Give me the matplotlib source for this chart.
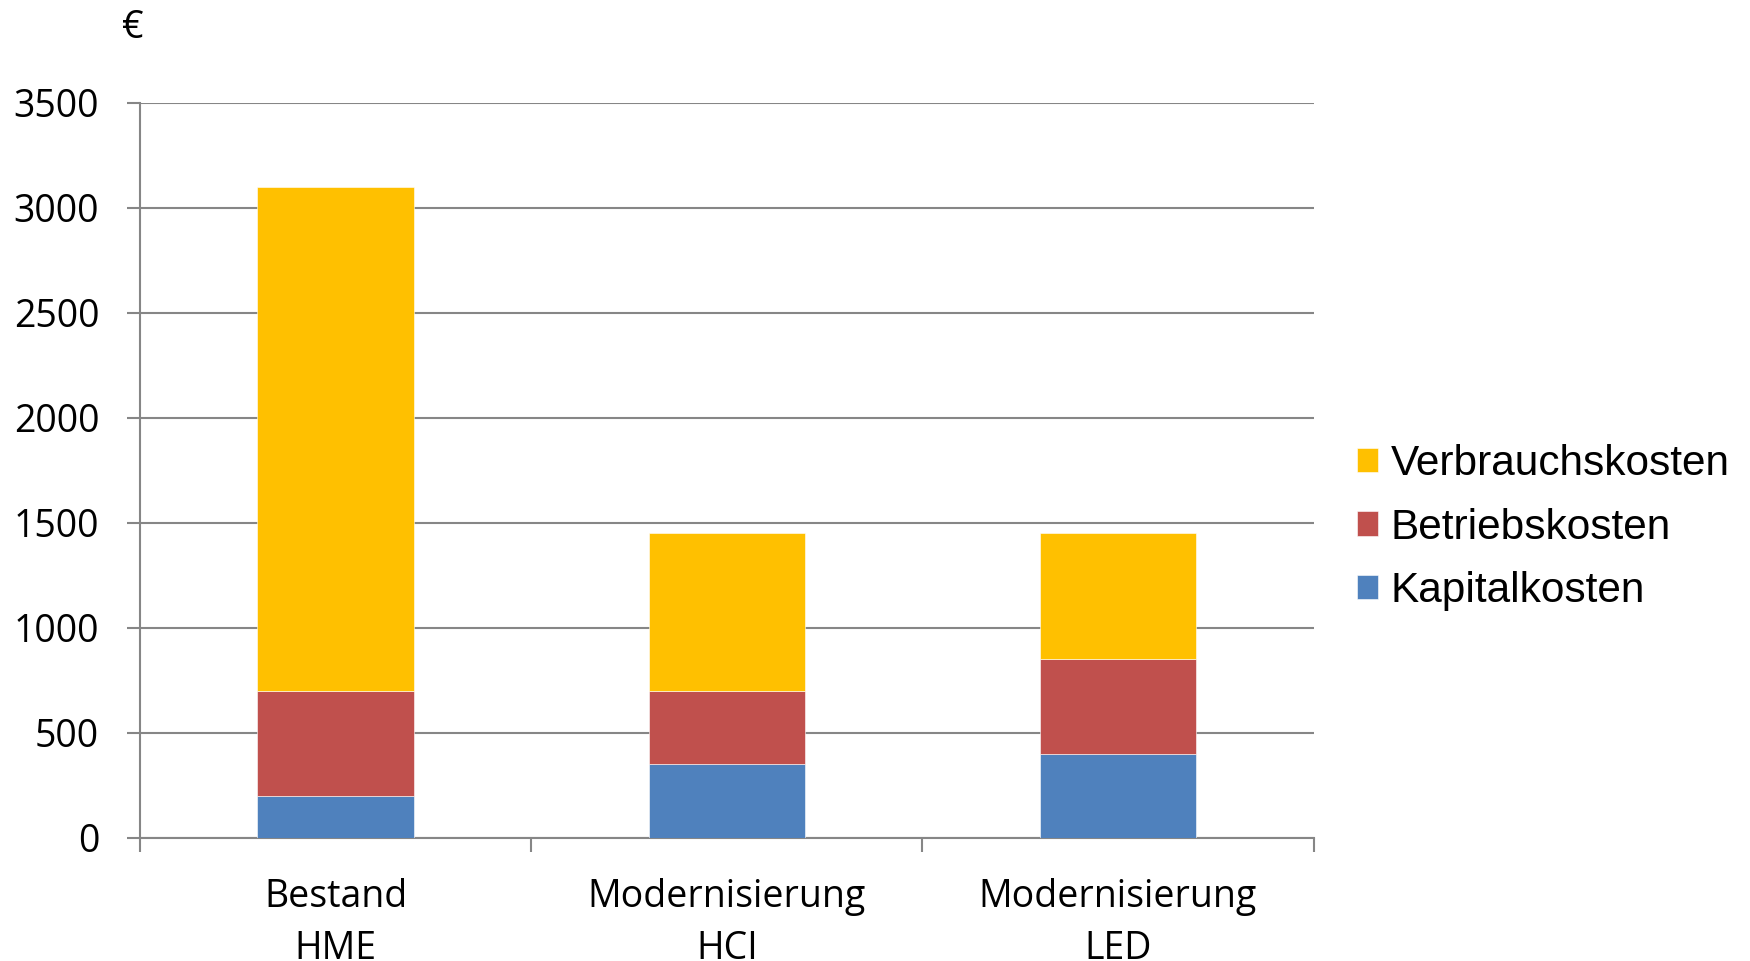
import matplotlib
matplotlib.use("Agg")
import matplotlib.pyplot as plt
import numpy as np

# Kostenvergleich Beleuchtung (Euro pro Jahr)
kategorien = ["Bestand\nHME", "Modernisierung\nHCI", "Modernisierung\nLED"]
kapitalkosten = [200, 350, 400]
betriebskosten = [500, 350, 450]
verbrauchskosten = [2400, 750, 600]

c_kap = "#4F81BD"
c_bet = "#C0504D"
c_ver = "#FFC000"
grau = "#868686"

fig = plt.figure(figsize=(17.5, 9.61), dpi=100)
ax = fig.add_axes([140 / 1750, 1 - 837.5 / 961, 1173.6 / 1750, 734.5 / 961])

x = np.arange(len(kategorien))
b = 0.4
ax.bar(x, kapitalkosten, b, color=c_kap, edgecolor="white", linewidth=0.4, zorder=3,
       label="Kapitalkosten")
ax.bar(x, betriebskosten, b, bottom=kapitalkosten, color=c_bet, edgecolor="white",
       linewidth=0.4, zorder=3, label="Betriebskosten")
unten = np.array(kapitalkosten) + np.array(betriebskosten)
ax.bar(x, verbrauchskosten, b, bottom=unten, color=c_ver, edgecolor="white",
       linewidth=0.4, zorder=3, label="Verbrauchskosten")

ax.set_xlim(-0.5, 2.5)
ax.set_ylim(0, 3500)
ax.set_yticks(range(0, 3501, 500))
ax.yaxis.grid(True, color=grau, linewidth=1.5, zorder=0)
ax.set_axisbelow(True)

for s in ["top", "right"]:
    ax.spines[s].set_visible(False)
for s in ["left", "bottom"]:
    ax.spines[s].set_color(grau)
    ax.spines[s].set_linewidth(1.5)

ax.tick_params(axis="y", length=9.4, width=1.5, color=grau, pad=20,
               labelsize=27, labelfontfamily="Open Sans")
ax.set_xticks(x)
ax.set_xticklabels(kategorien, fontsize=27, family="Open Sans", linespacing=1.45)
ax.tick_params(axis="x", which="major", length=0, pad=29.5)
ax.set_xticks([-0.5, 0.5, 1.5, 2.5], minor=True)
ax.tick_params(axis="x", which="minor", length=10, width=1.5, color=grau)

fig.text(133 / 1750, 1 - 28 / 961, "€", fontsize=27, family="Open Sans",
         ha="center", va="center")

h, l = ax.get_legend_handles_labels()
ax.legend(h[::-1], l[::-1], loc="center left", bbox_to_anchor=(1.019, 0.422),
          frameon=False, prop={"family": "Liberation Sans", "size": 30.5},
          borderpad=0, handlelength=0.5, handleheight=0.5, handletextpad=0.3,
          labelspacing=0.55)

fig.savefig("out.png", dpi=100)
